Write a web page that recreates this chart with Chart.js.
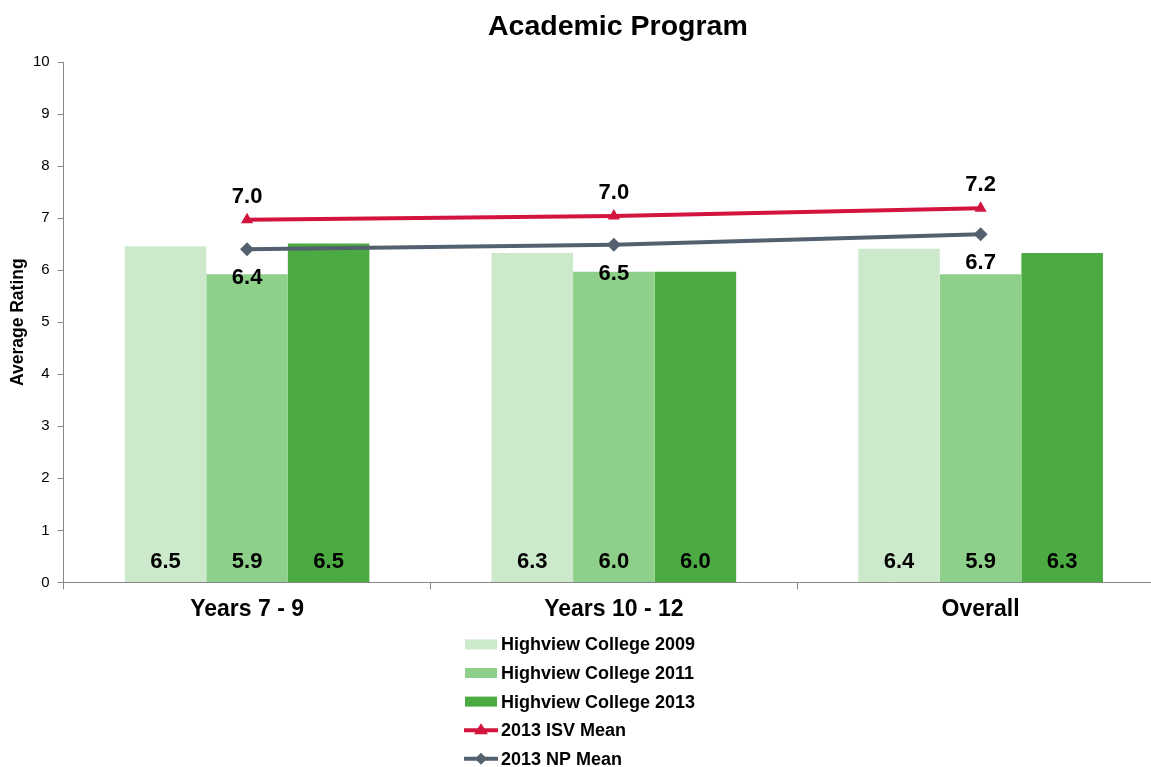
<!DOCTYPE html>
<html><head><meta charset="utf-8">
<script src="https://cdn.jsdelivr.net/npm/chart.js@4.4.1/dist/chart.umd.min.js"></script>
<style>html,body{margin:0;padding:0;overflow:hidden;background:#fff}#wrap{width:1240px;height:767px}</style>
</head><body><div id="wrap"><canvas id="c" width="1240" height="767"></canvas></div>
<script>
const chartTitle = "Academic Program";
const categories = ["Years 7 - 9", "Years 10 - 12", "Overall"];
const hc2009 = [6.46, 6.33, 6.41];
const hc2011 = [5.92, 5.97, 5.92];
const hc2013 = [6.51, 5.97, 6.33];
const isvMean = [6.97, 7.04, 7.19];
const npMean = [6.40, 6.49, 6.69];
const yTicks = [0,1,2,3,4,5,6,7,8,9,10];

const FONT = "'Liberation Sans', Arial, sans-serif";
const C09 = '#CCEACB', C11 = '#8ED08A', C13 = '#4BAA42', CISV = '#D2143E', CNP = '#53616E';

const titlePlugin = {
  id: 'customTitle',
  afterDraw(chart) {
    const ctx = chart.ctx;
    ctx.save();
    ctx.font = 'bold 28.5px ' + FONT;
    ctx.fillStyle = '#000';
    ctx.textAlign = 'center';
    ctx.textBaseline = 'middle';
    ctx.fillText(chartTitle, (chart.chartArea.left + chart.chartArea.right) / 2 + 4, 27);
    ctx.restore();
  }
};

const labelPlugin = {
  id: 'labels',
  afterDatasetsDraw(chart) {
    const ctx = chart.ctx;
    ctx.save();
    ctx.font = 'bold 22px ' + FONT;
    ctx.fillStyle = '#000';
    ctx.textAlign = 'center';
    ctx.textBaseline = 'middle';
    chart.data.datasets.forEach((ds, i) => {
      const meta = chart.getDatasetMeta(i);
      meta.data.forEach((el, j) => {
        const txt = ds.data[j].toFixed(1);
        if (ds.type === 'bar') {
          ctx.fillText(txt, el.x, chart.chartArea.bottom - 20);
        } else if (ds.labelPos === 'above') {
          ctx.fillText(txt, el.x, el.y - 23);
        } else {
          ctx.fillText(txt, el.x, el.y + 29);
        }
      });
    });
    ctx.restore();
  }
};

const legendPlugin = {
  id: 'customLegend',
  afterDraw(chart) {
    const ctx = chart.ctx;
    ctx.save();
    const x0 = 464, y0 = chart.chartArea.bottom + 62, step = 28.6;
    ctx.font = 'bold 18px ' + FONT;
    ctx.textBaseline = 'middle';
    ctx.textAlign = 'left';
    chart.data.datasets.forEach((ds, i) => {
      const y = y0 + i * step;
      if (ds.type === 'bar') {
        ctx.fillStyle = ds.backgroundColor;
        ctx.fillRect(x0 + 1, y - 5, 32, 10);
      } else {
        ctx.strokeStyle = ds.borderColor;
        ctx.lineWidth = 4;
        ctx.beginPath(); ctx.moveTo(x0, y); ctx.lineTo(x0 + 34, y); ctx.stroke();
        ctx.fillStyle = ds.borderColor;
        ctx.beginPath();
        if (ds.pointStyle === 'triangle') {
          ctx.moveTo(x0 + 17, y - 7); ctx.lineTo(x0 + 24, y + 4); ctx.lineTo(x0 + 10, y + 4);
        } else {
          ctx.moveTo(x0 + 17, y - 6); ctx.lineTo(x0 + 23, y); ctx.lineTo(x0 + 17, y + 6); ctx.lineTo(x0 + 11, y);
        }
        ctx.closePath(); ctx.fill();
      }
      ctx.fillStyle = '#000';
      ctx.fillText(ds.label, x0 + 37, y + 1);
    });
    ctx.restore();
  }
};

new Chart(document.getElementById('c'), {
  data: {
    labels: categories,
    datasets: [
      { type: 'bar', label: 'Highview College 2009', data: hc2009, backgroundColor: C09, order: 1 },
      { type: 'bar', label: 'Highview College 2011', data: hc2011, backgroundColor: C11, order: 1 },
      { type: 'bar', label: 'Highview College 2013', data: hc2013, backgroundColor: C13, order: 1 },
      { type: 'line', label: '2013 ISV Mean', data: isvMean, borderColor: CISV, backgroundColor: CISV, borderWidth: 4, pointStyle: 'triangle', pointRadius: 7, pointBorderWidth: 0, labelPos: 'above', order: 0 },
      { type: 'line', label: '2013 NP Mean', data: npMean, borderColor: CNP, backgroundColor: CNP, borderWidth: 4, pointStyle: 'rectRot', pointRadius: 7, pointBorderWidth: 0, labelPos: 'below', order: 0 }
    ]
  },
  options: {
    responsive: false,
    animation: false,
    devicePixelRatio: 1,
    layout: { padding: { left: 0, right: 76, bottom: 138, top: 62 } },
    datasets: { bar: { categoryPercentage: 0.667, barPercentage: 1.0 } },
    plugins: {
      legend: { display: false },
      tooltip: { enabled: false },
      title: { display: false }
    },
    scales: {
      x: {
        offset: true,
        grid: { display: true, drawOnChartArea: false, offset: true, tickLength: 7, color: '#888' },
        border: { color: '#888', width: 1 },
        ticks: { color: '#000', font: { family: FONT, size: 23, weight: 'bold' }, padding: 6 }
      },
      y: {
        min: 0, max: 10,
        afterBuildTicks(axis) { axis.ticks = yTicks.map(v => ({ value: v })); },
        grid: { display: true, drawOnChartArea: false, tickLength: 6, color: '#888' },
        border: { color: '#888', width: 1 },
        ticks: { color: '#000', font: { family: FONT, size: 15 }, padding: 8 },
        title: { display: true, text: 'Average Rating', color: '#000', font: { family: FONT, size: 17.5, weight: 'bold' }, padding: { top: 8, bottom: -4 } }
      }
    }
  },
  plugins: [labelPlugin, legendPlugin, titlePlugin]
});
</script>
</body></html>
